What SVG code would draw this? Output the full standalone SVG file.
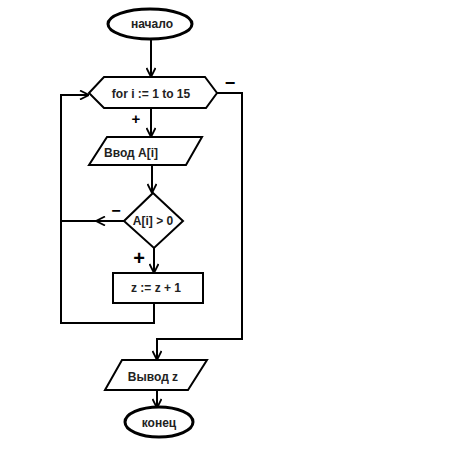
<svg xmlns="http://www.w3.org/2000/svg" width="469" height="469" viewBox="0 0 469 469">
<style>
.s{fill:#fff;stroke:#000;stroke-width:2}
.e{fill:#fff;stroke:#000;stroke-width:3}
.c{fill:none;stroke:#000;stroke-width:2}
.t{font-family:"Liberation Sans",Arial,sans-serif;font-weight:bold;font-size:12px;fill:#222}
.m{font-family:"Liberation Sans",Arial,sans-serif;font-weight:bold;fill:#000}
</style>
<defs>
<marker id="a" viewBox="0 0 10 10" refX="10" refY="5" markerWidth="10" markerHeight="10" markerUnits="userSpaceOnUse" orient="auto">
<path d="M1,0.5 L10,5 L1,9.5" fill="none" stroke="#000" stroke-width="1.8"/>
</marker>
</defs>
<rect width="469" height="469" fill="#fff"/>
<g id="connectors">
<path class="c" d="M151,40 V77" marker-end="url(#a)"/>
<path class="c" d="M151,108 V137" marker-end="url(#a)"/>
<path class="c" d="M152,166 V193" marker-end="url(#a)"/>
<path class="c" d="M154,248 V273" marker-end="url(#a)"/>
<path class="c" d="M124,221 H61"/>
<path class="c" d="M124,221 H96" marker-end="url(#a)"/>
<path class="c" d="M154,303 V323 H61 V95 H89" marker-end="url(#a)"/>
<path class="c" d="M217,93 H242 V339 H157 V360" marker-end="url(#a)"/>
<path class="c" d="M157,390 V408" marker-end="url(#a)"/>
</g>
<g id="start">
<ellipse class="e" cx="150" cy="24" rx="42" ry="15"/>
<text class="t" x="152" y="28" text-anchor="middle">начало</text>
</g>
<g id="loop">
<polygon class="s" points="89,93 104,77 205,77 217,93 206,108 104,108"/>
<text class="t" x="151" y="98" text-anchor="middle">for i := 1 to 15</text>
<text class="m" x="230" y="89" font-size="18" text-anchor="middle">−</text>
<text class="m" x="136" y="124" font-size="15" text-anchor="middle">+</text>
</g>
<g id="input">
<polygon class="s" points="107,137 202,137 186,165 89,165"/>
<text class="t" x="104" y="157">Ввод A[i]</text>
</g>
<g id="cond">
<polygon class="s" points="153,193 183,221 154,248 124,221"/>
<text class="t" x="153" y="225" text-anchor="middle">A[i] &gt; 0</text>
<text class="m" x="116" y="216" font-size="16" text-anchor="middle">−</text>
<text class="m" x="139" y="265" font-size="20" text-anchor="middle">+</text>
</g>
<g id="incr">
<rect class="s" x="113" y="273" width="90" height="30"/>
<text class="t" x="156" y="292" text-anchor="middle">z := z + 1</text>
</g>
<g id="output">
<polygon class="s" points="122,360 207,360 188,390 105,390"/>
<text class="t" x="153" y="381" text-anchor="middle">Вывод z</text>
</g>
<g id="end">
<ellipse class="e" cx="159" cy="422" rx="34" ry="15"/>
<text class="t" x="159" y="427" text-anchor="middle">конец</text>
</g>
</svg>
